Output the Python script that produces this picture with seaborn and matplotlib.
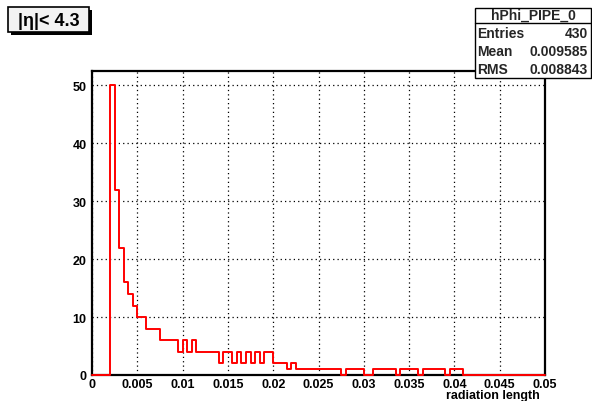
import matplotlib
matplotlib.use("Agg")
import matplotlib.pyplot as plt
from matplotlib.patches import Rectangle
from matplotlib.lines import Line2D
from matplotlib.ticker import MultipleLocator, FuncFormatter
import numpy as np
import pandas as pd
import seaborn as sns

# Histogram binning: 100 bins of width 0.0005 from 0 to 0.05
bin_width = 0.0005
n_bins = 100

# Counts per bin (radiation length of the beam pipe)
counts = [
    0, 0, 0, 0, 50, 32, 22, 16, 14, 12,      # 0.000 - 0.0045
    10, 10, 8, 8, 8, 6, 6, 6, 6, 4,          # 0.005 - 0.0095
    6, 4, 6, 4, 4, 4, 4, 4, 2, 4,            # 0.010 - 0.0145
    4, 2, 4, 2, 4, 2, 4, 2, 4, 4,            # 0.015 - 0.0195
    2, 2, 2, 1, 2, 1, 1, 1, 1, 1,            # 0.020 - 0.0245
    1, 1, 1, 1, 1, 0, 1, 1, 1, 1,            # 0.025 - 0.0295
    0, 0, 1, 1, 1, 1, 1, 0, 1, 1,            # 0.030 - 0.0345
    1, 1, 0, 1, 1, 1, 1, 1, 0, 1,            # 0.035 - 0.0395
    1, 1, 0, 0, 0, 0, 0, 0, 0, 0,            # 0.040 - 0.0445
    0, 0, 0, 0, 0, 0, 0, 0, 0, 0,            # 0.045 - 0.0495
]

hist_name = "hPhi_PIPE_0"
stats_labels = ["Entries", "Mean", "RMS"]
stats_values = ["430", "0.009585", "0.008843"]
eta_label = "|η|< 4.3"
x_label = "radiation length"

edges = [round(i * bin_width, 6) for i in range(n_bins + 1)]
centers = [0.5 * (a + b) for a, b in zip(edges[:-1], edges[1:])]
df = pd.DataFrame({"x": centers, "w": np.asarray(counts, dtype=float)})

sns.set_style("white")
plt.rcParams["font.family"] = ["Liberation Sans", "DejaVu Sans"]
plt.rcParams["font.weight"] = "bold"

W, H = 592, 402
fig = plt.figure(figsize=(W / 100, H / 100), dpi=100)
fig.patch.set_facecolor("white")


def fx(px):
    return px / W


def fy(py):
    return 1 - py / H


left, right, top, bottom = 92, 545, 72, 376
ax = fig.add_axes([fx(left), fy(bottom), fx(right - left), (bottom - top) / H])
ax.set_facecolor("white")

sns.histplot(data=df, x="x", weights="w", bins=edges, element="step", fill=False,
             color="#ff0000", linewidth=1.4, ax=ax)
for ln in ax.lines:
    ln.set_clip_on(False)
    ln.set_zorder(5)

ax.set_xlim(0, 0.05)
ax.set_ylim(0, 52.5)
ax.set_ylabel("")
ax.set_xlabel("")

ax.xaxis.set_major_locator(MultipleLocator(0.005))
ax.xaxis.set_minor_locator(MultipleLocator(0.001))
ax.yaxis.set_major_locator(MultipleLocator(10))
ax.yaxis.set_minor_locator(MultipleLocator(2))
ax.xaxis.set_major_formatter(FuncFormatter(lambda v, p: "0" if abs(v) < 1e-12 else f"{v:g}"))
ax.yaxis.set_major_formatter(FuncFormatter(lambda v, p: f"{v:g}"))

ax.tick_params(axis="both", which="major", direction="in", length=6.5, width=1.0,
               color="black", labelsize=9, labelcolor="black")
ax.tick_params(axis="both", which="minor", direction="in", length=3.6, width=1.0,
               color="black")
ax.tick_params(axis="x", which="major", pad=2.0)
ax.tick_params(axis="y", which="major", pad=4)
for lab in ax.get_xticklabels() + ax.get_yticklabels():
    lab.set_fontweight("bold")

ax.grid(which="major", color="black", linestyle=(0, (1, 2.5)), linewidth=0.9)
ax.set_axisbelow(True)
for s in ax.spines.values():
    s.set_visible(True)
    s.set_color("black")
    s.set_linewidth(1.6)

fig.text(fx(540), fy(396.5), x_label, ha="right", va="center", fontsize=9,
         fontweight="bold", color="black")

# Pseudorapidity label box with drop shadow
fig.add_artist(Rectangle((fx(11), fy(36)), fx(81), (25) / H, transform=fig.transFigure,
                         facecolor="black", edgecolor="none", zorder=6))
fig.add_artist(Rectangle((fx(8), fy(33)), fx(81), (25) / H, transform=fig.transFigure,
                         facecolor="#f2f2f2", edgecolor="black", linewidth=1.2, zorder=7))
fig.text(fx(48.5), fy(21), eta_label, ha="center", va="center", fontsize=13,
         fontweight="bold", color="black", zorder=8,
         family=["Liberation Sans", "DejaVu Sans"])

# Statistics box
sx0, sx1, sy0, sy1 = 475, 591, 9, 79
fig.add_artist(Rectangle((fx(sx0), fy(sy1)), fx(sx1 - sx0), (sy1 - sy0) / H,
                         transform=fig.transFigure, facecolor="white",
                         edgecolor="black", linewidth=1.0, zorder=6))
fig.add_artist(Line2D([fx(sx0), fx(sx1)], [fy(24), fy(24)], transform=fig.transFigure,
                      color="black", linewidth=1.0, zorder=7))
fig.text(fx((sx0 + sx1) / 2), fy(15.5), hist_name, ha="center", va="center",
         fontsize=10, fontweight="bold", zorder=8)
for i, (lab, val) in enumerate(zip(stats_labels, stats_values)):
    yy = 34 + 18 * i
    fig.text(fx(477), fy(yy), lab, ha="left", va="center", fontsize=10,
             fontweight="bold", zorder=8)
    fig.text(fx(588), fy(yy), val, ha="right", va="center", fontsize=10,
             fontweight="bold", zorder=8)

fig.savefig("out.png", dpi=100, facecolor="white")
